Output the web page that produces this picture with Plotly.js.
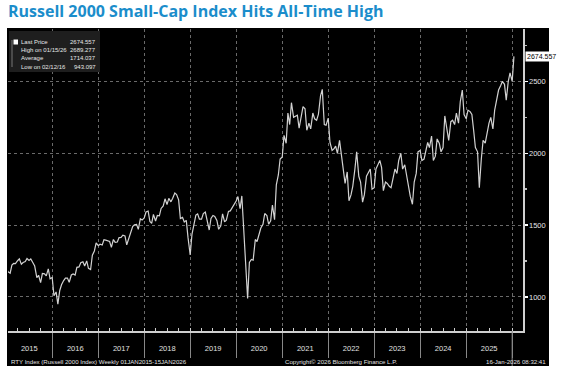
<!DOCTYPE html>
<html><head><meta charset="utf-8">
<script src="https://cdn.plot.ly/plotly-3.0.1.min.js"></script>
<style>body{margin:0;background:#fff}#chart{width:561px;height:390px}</style>
</head><body><div id="chart"></div>
<script>
// Russell 2000 (RTY) — semi-monthly readings (1st and 15th of each month)
const v2015 = [1205,1175,1165,1222,1233,1232,1252,1265,1228,1240,1246,1268,1254,1265,1238,1215,1134,1151,1100,1163,1161,1147,1196,1127];
const v2016 = [1136,1008,1035,950,1045,1085,1114,1131,1131,1102,1153,1160,1152,1206,1209,1238,1245,1216,1251,1199,1191,1290,1320,1376];
const v2017 = [1357,1367,1361,1398,1395,1389,1386,1345,1400,1380,1382,1413,1415,1430,1425,1363,1405,1449,1490,1502,1505,1470,1544,1535];
const v2018 = [1550,1591,1598,1525,1512,1574,1529,1567,1565,1616,1633,1683,1643,1686,1662,1687,1724,1713,1676,1546,1554,1522,1533,1411];
const v2019 = [1292,1435,1500,1570,1578,1541,1541,1580,1591,1531,1466,1546,1567,1561,1533,1471,1495,1578,1523,1535,1595,1599,1624,1636];
const v2020 = [1668,1699,1614,1703,1476,1210,990,1240,1261,1256,1400,1386,1441,1480,1505,1581,1566,1506,1530,1640,1538,1780,1849,1960];
const v2021 = [1975,2125,2070,2280,2200,2352,2250,2255,2265,2175,2270,2325,2310,2160,2210,2170,2280,2240,2230,2270,2400,2445,2200,2195];
const v2022 = [2245,2075,2020,2030,2050,2000,2090,2000,1860,1790,1870,1670,1710,1770,1890,2010,1840,1800,1660,1710,1840,1860,1890,1750];
const v2023 = [1760,1890,1930,1950,1900,1740,1800,1790,1770,1760,1830,1890,1860,1950,2000,1890,1920,1850,1760,1700,1645,1800,1860,2010];
const v2024 = [2020,1950,1960,2030,2075,2040,2120,1950,1980,2100,2070,2010,2040,2260,2180,2090,2220,2230,2200,2280,2210,2360,2440,2270];
const v2025 = [2240,2300,2290,2270,2160,2040,2010,1760,1960,2090,2070,2140,2210,2250,2170,2300,2380,2440,2470,2500,2480,2370,2500,2560];
const v2026 = [2500,2674.557];
const years = [2015,2016,2017,2018,2019,2020,2021,2022,2023,2024,2025,2026];
const yearValues = [v2015,v2016,v2017,v2018,v2019,v2020,v2021,v2022,v2023,v2024,v2025,v2026];
const yTicks = [1000,1500,2000,2500];
const legendLabels = ["Last Price","High on 01/15/26","Average","Low on 02/12/16"];
const legendValues = ["2674.557","2689.277","1714.037","943.097"];
const lastPrice = "2674.557";

const dates = [], vals = [];
yearValues.forEach((arr, i) => {
  arr.forEach((v, j) => {
    const m = Math.floor(j / 2) + 1, d = (j % 2 === 0) ? '01' : '15';
    dates.push(years[i] + '-' + String(m).padStart(2, '0') + '-' + d);
    vals.push(v);
  });
});

// pixel -> paper helpers (plot area: x 8..523, y 29..331)
const L = 8, R = 523, T = 29, B = 331;
const px = x => (x - L) / (R - L);
const py = y => (B - y) / (B - T);
const small = "Liberation Sans, Arial, sans-serif";

const annotations = [];
legendLabels.forEach((t, i) => {
  const y = 42 + i * 8.2;
  annotations.push({xref:'paper', yref:'paper', x:px(19), y:py(y), xanchor:'left', yanchor:'middle', text:t, showarrow:false, font:{family:small, size:6, color:'#e6e6e6'}});
  annotations.push({xref:'paper', yref:'paper', x:px(98), y:py(y), xanchor:'right', yanchor:'middle', text:legendValues[i], showarrow:false, font:{family:small, size:6, color:'#e6e6e6'}});
});
annotations.push({xref:'paper', yref:'y', x:1, xshift:2, y:2674.557, xanchor:'left', yanchor:'middle', text:lastPrice, showarrow:false, bgcolor:'#ffffff', borderpad:1, font:{family:small, size:7, color:'#000'}});
annotations.push({xref:'paper', yref:'paper', x:px(9), y:py(361), xanchor:'left', yanchor:'middle', text:'RTY Index (Russell 2000 Index) Weekly 01JAN2015-15JAN2026', showarrow:false, font:{family:small, size:6.1, color:'#e0e0e0'}});
annotations.push({xref:'paper', yref:'paper', x:px(283), y:py(361), xanchor:'left', yanchor:'middle', text:'Copyright© 2026 Bloomberg Finance L.P.', showarrow:false, font:{family:small, size:6.1, color:'#e0e0e0'}});
annotations.push({xref:'paper', yref:'paper', x:px(548), y:py(361), xanchor:'right', yanchor:'middle', text:'16-Jan-2026 08:32:41', showarrow:false, font:{family:small, size:6.1, color:'#e0e0e0'}});

const shapes = [
  {type:'rect', xref:'paper', yref:'paper', x0:px(7), x1:px(549), y0:py(366), y1:py(28), fillcolor:'#000', line:{width:0}, layer:'below'},
  {type:'rect', xref:'paper', yref:'paper', x0:px(9), x1:px(100), y0:py(72), y1:py(31), fillcolor:'#1e1e1e', line:{width:0}},
  {type:'line', xref:'paper', yref:'paper', x0:px(12), x1:px(12), y0:py(40), y1:py(67), line:{color:'#777', width:1}},
  {type:'rect', xref:'paper', yref:'paper', x0:px(13.5), x1:px(18), y0:py(44.5), y1:py(39.5), fillcolor:'#fff', line:{width:0}},
  {type:'line', xref:'x', yref:'paper', x0:'2026-01-01', x1:'2026-01-01', y0:0, y1:py(366), line:{color:'#888', width:1}}
];

const trace = {x:dates, y:vals, type:'scatter', mode:'lines', line:{color:'#d2d2d2', width:1.2}, hoverinfo:'skip'};

const layout = {
  width:561, height:390,
  margin:{l:L, r:561-R, t:T, b:390-B},
  paper_bgcolor:'#ffffff', plot_bgcolor:'#000000',
  showlegend:false,
  title:{text:'<b>Russell 2000 Small-Cap Index Hits All-Time High</b>', x:0, xref:'paper', xanchor:'left', y:1 - 11.5/390, yanchor:'middle', pad:{l:0},
         font:{family:'Open Sans, Lato, sans-serif', size:16, color:'#1b8dcb'}},
  xaxis:{type:'date', range:['2015-01-15','2026-03-28'], dtick:'M12', tick0:'2015-01-01', ticklabelmode:'period',
         tickformat:'%Y', ticks:'outside', ticklen:25, tickcolor:'#888', tickwidth:1, ticklabelstandoff:-16,
         showgrid:true, gridcolor:'#6a6a6a', griddash:'dot', gridwidth:1,
         showline:true, linecolor:'#cfcfcf', linewidth:1.5, zeroline:false,
         tickfont:{family:small, size:7.5, color:'#e0e0e0'},
         minor:{dtick:'M3', tick0:'2015-01-01', ticks:'inside', ticklen:3, tickcolor:'#cfcfcf', showgrid:false}},
  yaxis:{side:'right', range:[763,2865], tickvals:yTicks, ticktext:yTicks.map(String), ticks:'outside', ticklen:3, tickcolor:'#fff', tickwidth:1.5,
         showgrid:true, gridcolor:'#6a6a6a', griddash:'dot', gridwidth:1,
         showline:true, linecolor:'#d0d0d0', linewidth:1.5, zeroline:false,
         tickfont:{family:small, size:7.5, color:'#e6e6e6'},
         minor:{dtick:250, tick0:0, ticks:'outside', ticklen:2, tickcolor:'#bbb', showgrid:false}},
  shapes:shapes, annotations:annotations
};
Plotly.newPlot('chart', [trace], layout, {staticPlot:true, displayModeBar:false});
</script></body></html>
